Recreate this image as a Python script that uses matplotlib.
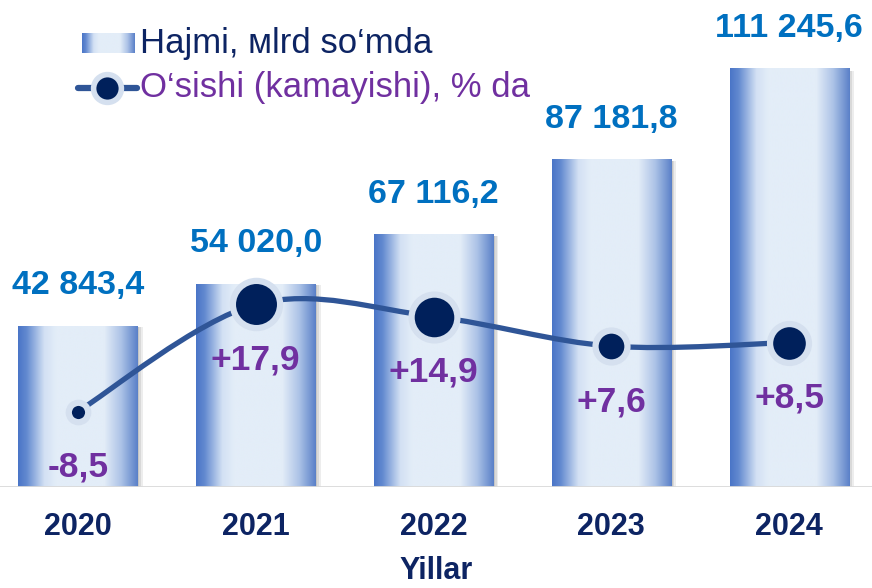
import numpy as np
import matplotlib
matplotlib.use("Agg")
import matplotlib.pyplot as plt
from matplotlib.colors import LinearSegmentedColormap
from matplotlib.path import Path
from matplotlib.patches import PathPatch, Rectangle
from matplotlib.lines import Line2D

# data
years = ["2020", "2021", "2022", "2023", "2024"]
volume = [42843.4, 54020.0, 67116.2, 87181.8, 111245.6]
volume_labels = ["42 843,4", "54 020,0", "67 116,2", "87 181,8", "111 245,6"]
growth = [-8.5, 17.9, 14.9, 7.6, 8.5]
growth_labels = ["-8,5", "+17,9", "+14,9", "+7,6", "+8,5"]

# style
marker_sizes = [14, 34, 33, 23, 28]
navy = "#0d2463"
purple = "#7030a0"
valblue = "#0070c0"
linecol = "#2f5597"
halo = "#d5e0ef"
bar_cmap = LinearSegmentedColormap.from_list(
    "bar", [(0.0, "#4a75c7"), (0.07, "#6289d0"), (0.22, "#d3e1f4"),
            (0.32, "#e3edf8"), (0.72, "#e3edf8"), (0.86, "#adc3e7"),
            (1.0, "#5a80c8")])

plt.rcParams['font.family'] = ['Liberation Sans', 'DejaVu Sans']
W, H = 872, 588
fig = plt.figure(figsize=(W / 100, H / 100), dpi=100)
ax = fig.add_axes([0, 1 - 487 / H, 1, 487 / H])
ax2 = ax.twinx()

x = np.arange(len(years))
bw = 0.67
grad = np.linspace(0, 1, 256).reshape(1, -1)
for xi, v in zip(x, volume):
    # soft shadow on the right
    for k, a in [(0.03, 0.15), (0.02, 0.2), (0.01, 0.25)]:
        ax.add_patch(Rectangle((xi - bw / 2 + k, 0), bw, v * 0.995,
                               color="#8c8c8c", alpha=a, lw=0, zorder=1))
    ax.imshow(grad, cmap=bar_cmap, aspect="auto", interpolation="bilinear",
              extent=[xi - bw / 2, xi + bw / 2, 0, v], zorder=2)

for xi, v, lab in zip(x, volume, volume_labels):
    ax.annotate(lab, (xi, v), xytext=(0, 29), textcoords="offset points",
                ha="center", va="center", fontsize=24.5, fontweight="bold",
                color=valblue, zorder=5)

ax.axhline(0, color="#d9d9d9", lw=2, zorder=3)
ax.set_xlim(-0.438, 4.466)
ax.set_ylim(0, 129600)
ax.set_xticks(x)
ax.set_xticklabels(years, fontsize=22, fontweight="bold", color=navy)
ax.tick_params(axis="x", length=0, pad=18)
ax.set_yticks([])
for s in ax.spines.values():
    s.set_visible(False)

# smooth line (Catmull-Rom as bezier)
pts = np.column_stack([x, growth]).astype(float)
verts = [pts[0]]
codes = [Path.MOVETO]
n = len(pts)
for i in range(n - 1):
    p0 = pts[max(i - 1, 0)]
    p1 = pts[i]
    p2 = pts[i + 1]
    p3 = pts[min(i + 2, n - 1)]
    c1 = p1 + (p2 - p0) / 6
    c2 = p2 - (p3 - p1) / 6
    verts += [c1, c2, p2]
    codes += [Path.CURVE4] * 3
ax2.add_patch(PathPatch(Path(verts, codes), fill=False, ec=linecol, lw=3.8,
                        capstyle="round", zorder=3))
for xi, g, ms in zip(x, growth, marker_sizes):
    ax2.plot(xi, g, "o", ms=ms, mfc="#00205b", mec=halo, mew=4.5,
             zorder=4)
for xi, g, lab in zip(x, growth, growth_labels):
    ax2.annotate(lab, (xi, g), xytext=(0, -40), textcoords="offset points",
                 ha="center", va="center", fontsize=25.5, fontweight="bold",
                 color=purple, zorder=5)
ax2.set_ylim(-27.1, 92.9)
ax2.set_yticks([])
for s in ax2.spines.values():
    s.set_visible(False)

# legend
lax = fig.add_axes([82 / W, 1 - 53 / H, 52 / W, 20 / H])
lax.imshow(grad, cmap=bar_cmap, aspect="auto", interpolation="bilinear")
lax.axis("off")
fig.add_artist(Line2D([78 / W, 137 / W], [1 - 88 / H] * 2,
                      transform=fig.transFigure, color=linecol, lw=4.5,
                      solid_capstyle="round"))
fig.add_artist(Line2D([107 / W], [1 - 88 / H], transform=fig.transFigure,
                      marker="o", ms=20, mfc="#00205b", mec=halo, mew=4))
fig.text(140 / W, 1 - 44 / H, "Hajmi, мlrd so‘mda", fontsize=25,
         color=navy, va="center", ha="left")
fig.text(140 / W, 1 - 88 / H, "O‘sishi (kamayishi), % da", fontsize=25,
         color=purple, va="center", ha="left")

fig.text(0.5, 1 - 586 / H, "Yillar", fontsize=22, fontweight="bold",
         color=navy, ha="center", va="bottom")

fig.savefig("out.png", dpi=100)
